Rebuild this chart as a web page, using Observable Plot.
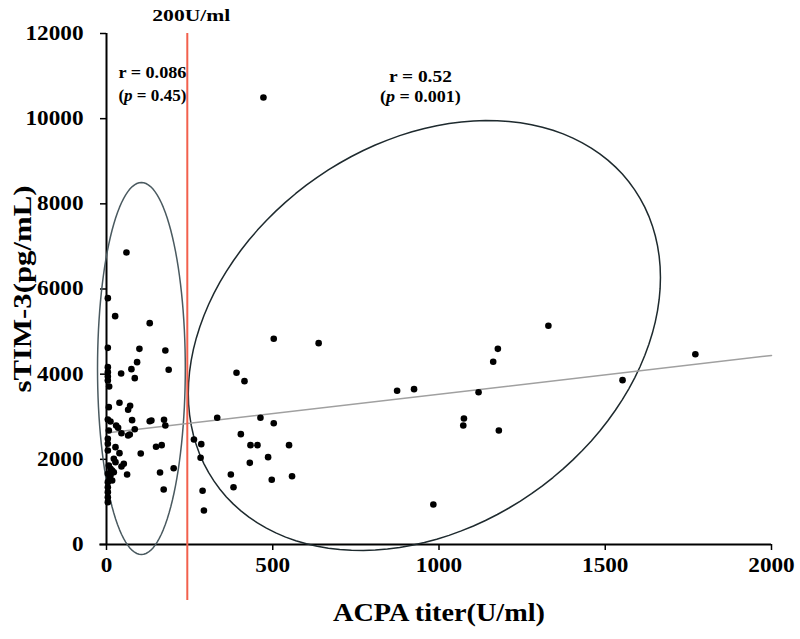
<!DOCTYPE html>
<html><head><meta charset="utf-8">
<script src="https://cdn.jsdelivr.net/npm/d3@7"></script>
<script src="https://cdn.jsdelivr.net/npm/@observablehq/plot@0.6"></script>
<style>body{margin:0;background:#fff}</style>
</head><body><div id="chart"></div>
<script>
// ACPA titer < 200 U/ml group
const lowX = [4,26,60,130,4,99,177,92,75,187,4,4,4,4,8,44,85,7,39,71,65,4,12,77,130,135,173,177,29,35,7,45,65,70,85,4,4,4,27,39,103,149,166,22,27,52,45,7,12,17,4,12,9,4,17,22,62,161,202,172,4,4,4,4];
const lowY = [5785,5362,6858,5198,4618,4595,4556,4282,4118,4102,4165,4047,3946,3852,3711,4016,3907,3225,3328,3257,3163,2936,2889,2920,2896,2912,2928,2795,2795,2740,2677,2614,2560,2583,2708,2482,2365,2208,2286,2145,2137,2294,2333,2012,1934,1894,1832,1855,1777,1738,1659,1620,1542,1464,1503,1698,1644,1691,1792,1292,1346,1229,1111,994];
// ACPA titer > 200 U/ml group
const highX = [472,503,638,391,415,333,463,503,263,285,404,433,454,549,283,486,431,374,558,382,497,289,293,874,925,1119,1329,1177,1163,1075,1073,1180,1552,1771,983];
const highY = [10498,4831,4728,4032,3836,2975,2975,2849,2466,2356,2591,2333,2333,2333,2036,2051,1918,1644,1604,1346,1519,1261,798,3609,3648,3577,5136,4595,4290,2959,2795,2677,3859,4469,939];

const xTicks = [0, 500, 1000, 1500, 2000];
const yTicks = [0, 2000, 4000, 6000, 8000, 10000, 12000];
const cutoff = 243;              // drawn position of the 200U/ml line
const cutoffLabel = "200U/ml";
const trendX = [5, 2000];
const trendY = [2625, 4440];
const annotText = ["r = 0.086", "(p = 0.45)", "r = 0.52", "(p = 0.001)"];
const annotX = [138, 138, 944, 944];
const annotY = [11085, 10545, 10991, 10521];
// ellipse parameters (data units): centre x, centre y, x half-extent, y shear, y half-axis
const leftEll = [105, 4133, 132, 0, 4368];
const rightEll = [956, 4908, 710, 1362, 4862];
const xTitle = "ACPA titer(U/ml)";
const yTitle = "sTIM-3(pg/mL)";

const points = lowX.map((x, i) => ({x, y: lowY[i]})).concat(highX.map((x, i) => ({x, y: highY[i]})));
const trend = trendX.map((x, i) => ({x, y: trendY[i]}));
const annots = annotText.map((t, i) => ({t, x: annotX[i], y: annotY[i]}));
function ellipse([cx, cy, ax, sh, by]) {
  return d3.range(0, 361, 3).map(a => {
    const t = a * Math.PI / 180;
    return {x: cx + ax * Math.cos(t), y: cy + sh * Math.cos(t) + by * Math.sin(t)};
  });
}

const plot = Plot.plot({
  width: 800, height: 639,
  marginLeft: 106, marginRight: 29, marginTop: 33, marginBottom: 95,
  x: {domain: [0, 2000]},
  y: {domain: [0, 12000]},
  style: {fontFamily: "'Liberation Serif', 'Times New Roman', serif", fontWeight: "bold", background: "#fff", color: "#000"},
  marks: [
    Plot.axisY({ticks: yTicks, tickSize: 6, tickPadding: 17, fontSize: 20, label: null, tickFormat: d3.format("d"), strokeWidth: 1.5}),
    Plot.axisX({ticks: xTicks, tickSize: 6, tickPadding: 7, fontSize: 20, label: null, tickFormat: d3.format("d"), strokeWidth: 1.5}),
    Plot.ruleX([0], {y1: 0, y2: 12000, stroke: "#000", strokeWidth: 2}),
    Plot.ruleY([0], {x1: -20, x2: 2000, stroke: "#000", strokeWidth: 2}),
    Plot.line(ellipse(leftEll), {x: "x", y: "y", stroke: "#4a5a60", strokeWidth: 1.5}),
    Plot.line(ellipse(rightEll), {x: "x", y: "y", stroke: "#1e2a2e", strokeWidth: 1.5}),
    Plot.line(trend, {x: "x", y: "y", stroke: "#a0a0a0", strokeWidth: 1.5}),
    Plot.ruleX([cutoff], {y1: -1315, y2: 12000, stroke: "#f2604c", strokeWidth: 2}),
    Plot.dot(points, {x: "x", y: "y", r: 3.3, fill: "#000", stroke: "none"}),
    Plot.text([cutoffLabel], {x: cutoff, frameAnchor: "top", dy: -18, dx: 4, fontSize: 17, textAnchor: "middle", lineAnchor: "middle"}),
    Plot.text(annots, {x: "x", y: "y", text: "t", fontSize: 16, textAnchor: "middle", lineAnchor: "middle"}),
    Plot.text([xTitle], {frameAnchor: "bottom", dy: 68, fontSize: 25, textAnchor: "middle", lineAnchor: "middle"}),
    Plot.text([yTitle], {frameAnchor: "left", dx: -84, rotate: -90, fontSize: 25, textAnchor: "middle", lineAnchor: "middle"})
  ]
});
// horizontally widened lettering, as in the reference
const widths = {"r = 0.086": 68, "(p = 0.45)": 68, "r = 0.52": 63, "(p = 0.001)": 81,
  "200U/ml": 78, "ACPA titer(U/ml)": 212, "sTIM-3(pg/mL)": 207};
d3.select(plot).selectAll("text").each(function() {
  const s = this.textContent;
  const el = d3.select(this);
  if (/^\d+$/.test(s)) {
    el.attr("textLength", s.length * 11.6).attr("lengthAdjust", "spacingAndGlyphs");
  } else if (widths[s]) {
    el.attr("textLength", widths[s]).attr("lengthAdjust", "spacingAndGlyphs");
  }
  if (s.startsWith("(p")) {
    el.text("");
    el.append("tspan").text("(");
    el.append("tspan").attr("font-style", "italic").text("p");
    el.append("tspan").text(s.slice(2));
  }
});
document.getElementById("chart").append(plot);
</script>
</body></html>
